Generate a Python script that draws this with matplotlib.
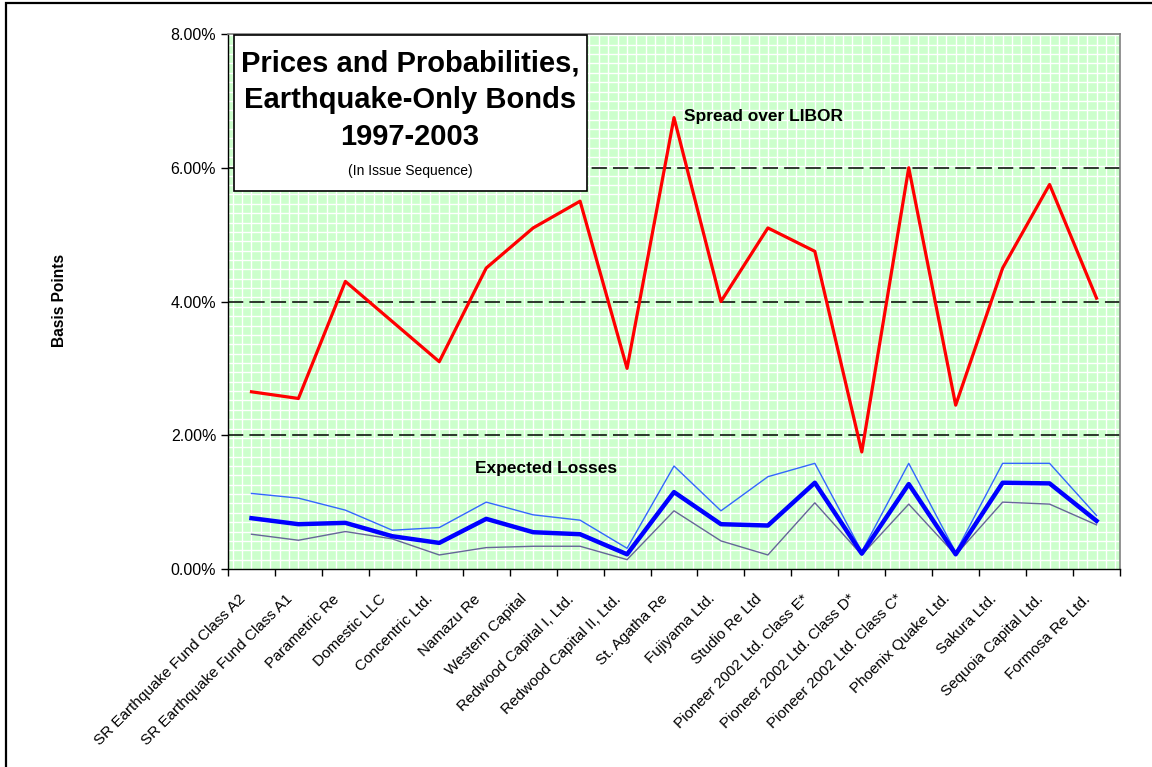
import matplotlib
matplotlib.use("Agg")
import matplotlib.pyplot as plt
from matplotlib.ticker import MultipleLocator, FuncFormatter, FixedLocator
from matplotlib.patches import Rectangle

plt.rcParams['font.family'] = ['Liberation Sans', 'DejaVu Sans']

bonds = [
    "SR Earthquake Fund Class A2", "SR Earthquake Fund Class A1", "Parametric Re",
    "Domestic LLC", "Concentric Ltd.", "Namazu Re", "Western Capital",
    "Redwood Capital I, Ltd.", "Redwood Capital II, Ltd.", "St. Agatha Re",
    "Fujiyama Ltd.", "Studio Re Ltd", "Pioneer 2002 Ltd. Class E*",
    "Pioneer 2002 Ltd. Class D*", "Pioneer 2002 Ltd. Class C*", "Phoenix Quake Ltd.",
    "Sakura Ltd.", "Sequoia Capital Ltd.", "Formosa Re Ltd.",
]
spread = [2.65, 2.55, 4.30, 3.70, 3.10, 4.50, 5.10, 5.50, 3.00, 6.75,
          4.00, 5.10, 4.75, 1.75, 6.00, 2.45, 4.50, 5.75, 4.05]
expected_loss = [0.76, 0.67, 0.69, 0.49, 0.39, 0.75, 0.55, 0.52, 0.22, 1.15,
                 0.67, 0.65, 1.29, 0.23, 1.27, 0.22, 1.29, 1.28, 0.72]
loss_high = [1.13, 1.06, 0.88, 0.58, 0.62, 1.00, 0.81, 0.73, 0.31, 1.54,
             0.87, 1.38, 1.58, 0.26, 1.58, 0.25, 1.58, 1.58, 0.80]
loss_low = [0.52, 0.43, 0.56, 0.45, 0.21, 0.32, 0.34, 0.34, 0.14, 0.87,
            0.42, 0.21, 0.99, 0.21, 0.97, 0.21, 1.00, 0.97, 0.66]
y_ticks = [0, 2, 4, 6, 8]
ref_lines = [2, 4, 6]

W, H = 1152, 767
fig = plt.figure(figsize=(W / 100, H / 100), dpi=100)
fig.patch.set_facecolor('white')

# figure frame (left and top edges visible)
fig.add_artist(Rectangle((6 / W, -0.05), 1.2, 1 - 3 / H + 0.05, transform=fig.transFigure,
                         fill=False, edgecolor='black', linewidth=1.6, zorder=0))

ax = fig.add_axes([228 / W, 1 - 569 / H, (1120 - 228) / W, (569 - 34) / H])
ax.set_facecolor('#CCFFCC')

x = list(range(1, len(bonds) + 1))
ax.set_xlim(0.5, len(bonds) + 0.5)
ax.set_ylim(0, 8)

# background pattern
ax.xaxis.set_minor_locator(MultipleLocator(0.2))
ax.yaxis.set_minor_locator(MultipleLocator(0.14))
ax.grid(which='minor', color='white', linewidth=1.0)
ax.grid(which='major', visible=False)
ax.set_axisbelow(True)
ax.tick_params(which='minor', length=0)

for v in ref_lines:
    ax.axhline(v, color='black', linewidth=1.1, linestyle=(0, (10, 4)), zorder=1)

ax.plot(x, loss_low, color='#666699', linewidth=1.0, zorder=3)
ax.plot(x, loss_high, color='#3366FF', linewidth=1.0, zorder=3)
ax.plot(x, expected_loss, color='#0000FF', linewidth=3.2, zorder=4)
ax.plot(x, spread, color='#FF0000', linewidth=2.3, zorder=5)

# axes styling
for s in ['top', 'right']:
    ax.spines[s].set_color('#808080')
    ax.spines[s].set_linewidth(1.2)
for s in ['left', 'bottom']:
    ax.spines[s].set_color('black')
    ax.spines[s].set_linewidth(1.0)

ax.yaxis.set_major_locator(FixedLocator(y_ticks))
ax.yaxis.set_major_formatter(FuncFormatter(lambda v, p: f"{v:.2f}%"))
ax.xaxis.set_major_locator(FixedLocator([i + 0.5 for i in range(0, len(bonds) + 1)]))
ax.set_xticklabels([])
ax.tick_params(axis='both', which='major', direction='out', length=5, width=1,
               labelsize=11.5, colors='black')

for xi, name in zip(x, bonds):
    ax.annotate(name, xy=(xi, 0), xycoords='data', xytext=(-6, -20), textcoords='offset points',
                rotation=45, ha='right', va='center', rotation_mode='anchor',
                fontsize=11, color='black', annotation_clip=False)

fig.text(60 / W, 1 - 300 / H, "Basis Points", rotation=90, ha='center', va='center',
         fontsize=11.2, fontweight='bold')

fig.text(684 / W, 1 - 117 / H, "Spread over LIBOR", ha='left', va='center',
         fontsize=12.5, fontweight='bold')
fig.text(475 / W, 1 - 469 / H, "Expected Losses", ha='left', va='center',
         fontsize=12.5, fontweight='bold')

# title box
fig.add_artist(Rectangle((234 / W, 1 - 191 / H), (587 - 234) / W, (191 - 35) / H,
                         transform=fig.transFigure, facecolor='white', edgecolor='black',
                         linewidth=1.2, zorder=6))
cx = 410 / W
fig.text(cx, 1 - 63 / H, "Prices and Probabilities,", ha='center', va='center',
         fontsize=21, fontweight='bold', zorder=7)
fig.text(cx, 1 - 100 / H, "Earthquake-Only Bonds", ha='center', va='center',
         fontsize=21, fontweight='bold', zorder=7)
fig.text(cx, 1 - 137 / H, "1997-2003", ha='center', va='center',
         fontsize=21, fontweight='bold', zorder=7)
fig.text(cx, 1 - 171 / H, "(In Issue Sequence)", ha='center', va='center',
         fontsize=10, zorder=7)

fig.savefig("out.png", dpi=100)
